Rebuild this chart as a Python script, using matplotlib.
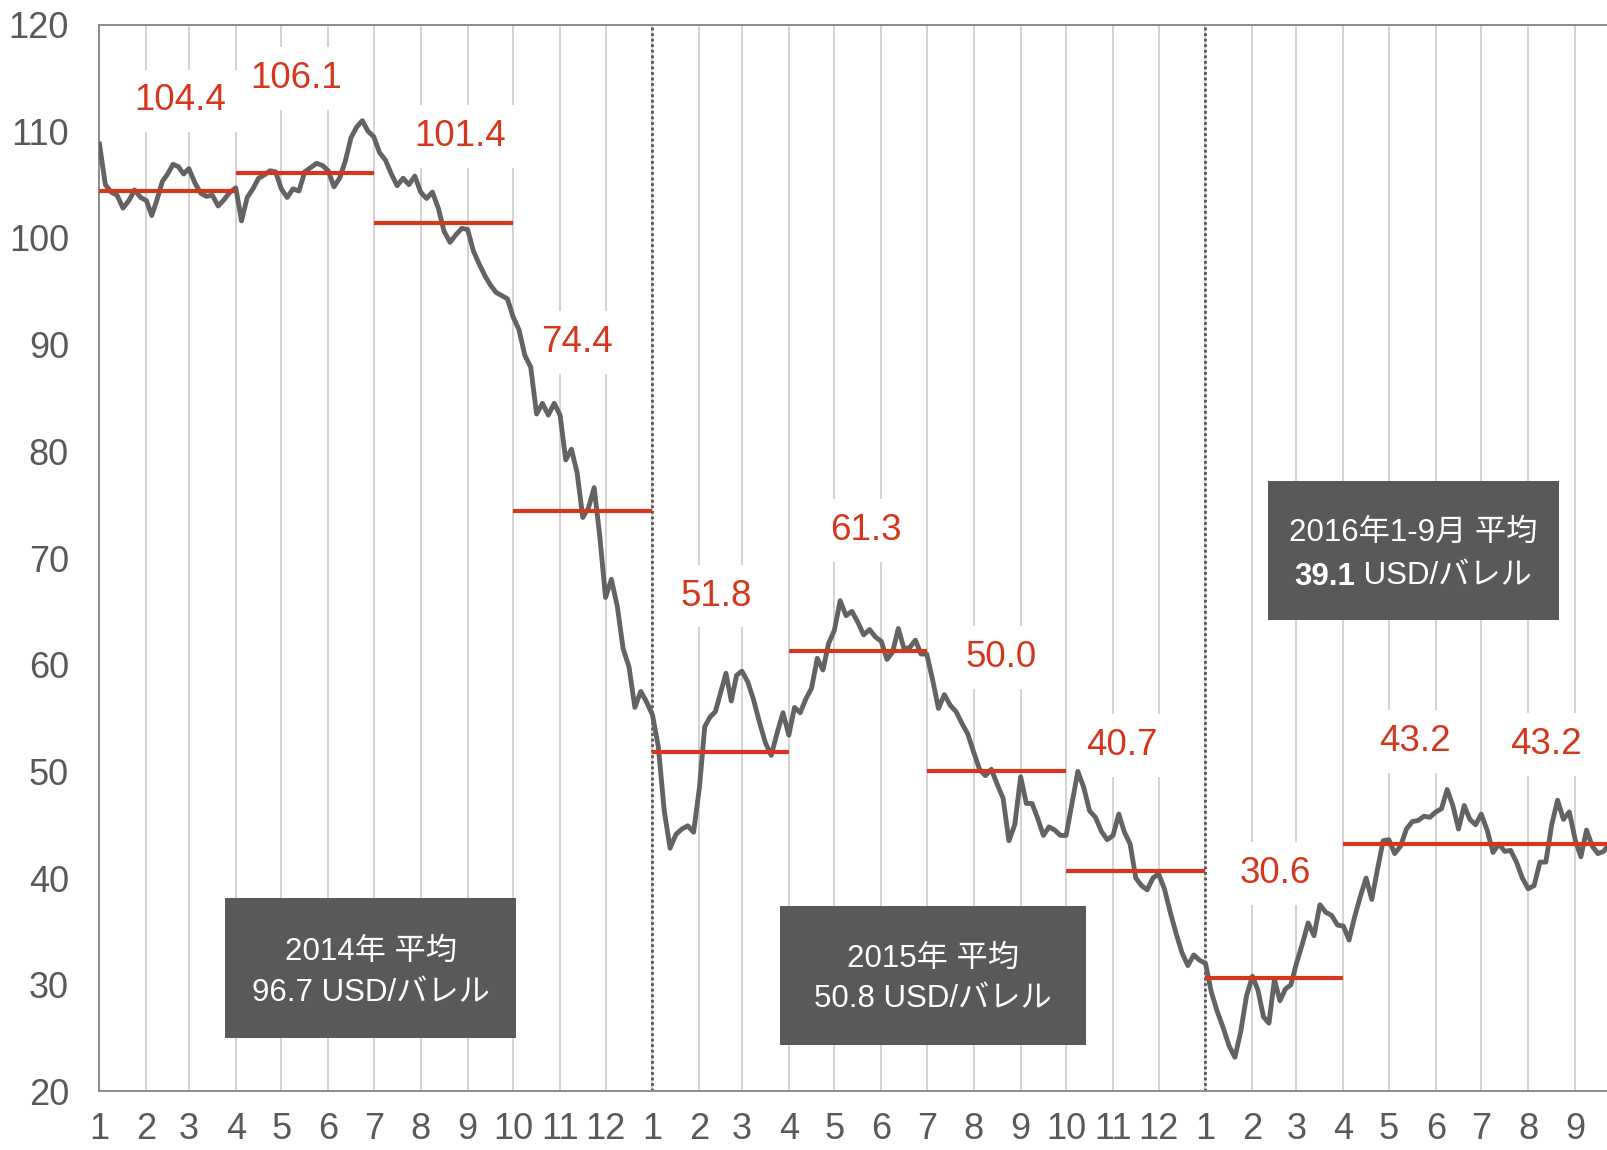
import pandas as pd
import matplotlib
matplotlib.use("Agg")
import matplotlib.pyplot as plt
import matplotlib.dates as mdates
from matplotlib.patches import Rectangle
from matplotlib.transforms import offset_copy

plt.rcParams['font.family'] = ['Liberation Sans', 'Noto Sans CJK JP', 'DejaVu Sans']

# crude price (USD/barrel), 8 readings per month
price_2014 = [
    108.8, 105.0, 104.3, 104.0, 102.8, 103.5, 104.5, 103.8,  # 1
    103.5, 102.1, 103.6, 105.3, 106.0, 106.9, 106.7, 106.0,  # 2
    106.5, 105.2, 104.2, 103.9, 104.0, 103.0, 103.6, 104.3,  # 3
    104.7, 101.6, 103.8, 104.6, 105.6, 105.9, 106.3, 106.2,  # 4
    104.6, 103.8, 104.6, 104.4, 106.2, 106.6, 107.0, 106.8,  # 5
    106.3, 104.8, 105.6, 107.2, 109.4, 110.4, 111.0, 110.0,  # 6
    109.5, 108.0, 107.3, 106.0, 104.9, 105.6, 105.0, 105.8,  # 7
    104.3, 103.7, 104.3, 102.8, 100.6, 99.6, 100.3, 100.9,   # 8
    100.8, 98.8, 97.6, 96.5, 95.6, 94.9, 94.6, 94.3,         # 9
    92.6, 91.4, 89.0, 87.9, 83.5, 84.5, 83.4, 84.5,          # 10
    83.4, 79.2, 80.2, 78.0, 73.8, 74.7, 76.6, 72.0,          # 11
    66.3, 68.0, 65.5, 61.5, 59.8, 56.0, 57.5, 56.5,          # 12
]
price_2015 = [
    55.3, 52.3, 46.3, 42.8, 44.1, 44.6, 44.9, 44.3,
    48.5, 54.2, 55.1, 55.6, 57.4, 59.2, 56.6, 59.0,
    59.4, 58.4, 56.7, 54.6, 52.7, 51.5, 53.6, 55.5,
    53.4, 56.0, 55.5, 56.8, 57.8, 60.6, 59.5, 62.0,
    63.2, 66.0, 64.6, 65.0, 64.0, 62.8, 63.3, 62.6,
    62.2, 60.5, 61.2, 63.4, 61.5, 61.6, 62.3, 61.0,
    61.0, 58.6, 55.9, 57.2, 56.2, 55.6, 54.5, 53.5,
    51.8, 50.2, 49.6, 50.2, 48.8, 47.5, 43.5, 45.0,
    49.5, 47.0, 47.0, 45.6, 44.0, 44.8, 44.5, 44.0,
    44.0, 47.0, 50.0, 48.5, 46.3, 45.7, 44.4, 43.6,
    44.0, 46.0, 44.3, 43.2, 40.0, 39.3, 38.9, 40.0,
    40.4, 39.0, 36.8, 34.8, 33.0, 31.8, 32.8, 32.3,
]
price_2016 = [
    32.0, 29.3, 27.5, 26.0, 24.3, 23.2, 25.6, 29.0,
    30.8, 29.5, 27.0, 26.4, 30.5, 28.5, 29.6, 30.0,
    32.0, 33.8, 35.8, 34.6, 37.5, 36.8, 36.5, 35.6,
    35.5, 34.2, 36.4, 38.3, 40.0, 38.0, 40.8, 43.5,
    43.6, 42.3, 43.0, 44.6, 45.3, 45.4, 45.8, 45.7,
    46.2, 46.5, 48.3, 46.8, 44.6, 46.8, 45.5, 45.0,
    46.0, 44.5, 42.4, 43.2, 42.5, 42.6, 41.5, 40.0,
    39.0, 39.3, 41.5, 41.5, 45.0, 47.3, 45.5, 46.2,
    43.6, 42.0, 44.5, 43.0, 42.3, 42.5, 43.2, 43.5,
]

# quarterly averages
q_start = ['2014-01-01', '2014-04-01', '2014-07-01', '2014-10-01',
           '2015-01-01', '2015-04-01', '2015-07-01', '2015-10-01',
           '2016-01-01', '2016-04-01', '2016-07-01']
q_end = ['2014-04-01', '2014-07-01', '2014-10-01', '2015-01-01',
         '2015-04-01', '2015-07-01', '2015-10-01', '2016-01-01',
         '2016-04-01', '2016-07-01', '2016-10-01']
q_avg = [104.4, 106.1, 101.4, 74.4, 51.8, 61.3, 50.0, 40.7, 30.6, 43.2, 43.2]
q_text = ['104.4', '106.1', '101.4', '74.4', '51.8', '61.3', '50.0', '40.7', '30.6', '43.2', '43.2']

# where the average labels sit
lab_x = ['2014-02-23', '2014-05-11', '2014-08-27', '2014-11-12', '2015-02-12', '2015-05-22',
         '2015-08-19', '2015-11-07', '2016-02-16', '2016-05-18', '2016-08-13']
lab_y = [113.2, 115.3, 109.9, 90.6, 66.8, 72.9, 61.0, 52.8, 40.8, 53.2, 52.9]

# yearly average boxes
box_l = ['2014-03-25', '2015-03-26', '2016-02-11']
box_r = ['2014-10-03', '2015-10-14', '2016-08-21']
box_b = [25.0, 24.4, 64.2]
box_t = [38.1, 37.4, 77.2]
box_line1 = ['2014年 平均', '2015年 平均', '2016年1-9月 平均']
box_num = ['96.7', '50.8', '39.1']
box_y1 = [32.3, 31.7, 71.6]
box_y2 = [28.5, 27.9, 67.5]

RED = '#d6361b'
GRAY = '#636363'
TXT = '#595959'


def month_dates(year, n_months, per_month=8):
    out = []
    for m in range(1, n_months + 1):
        start = pd.Timestamp(year, m, 1)
        nd = start.days_in_month
        for k in range(per_month):
            out.append(start + pd.Timedelta(days=k * nd / per_month))
    return out


dates = month_dates(2014, 12) + month_dates(2015, 12) + month_dates(2016, 9)
values = price_2014 + price_2015 + price_2016
dnum = mdates.date2num([d.to_pydatetime() for d in dates])


def dn(s):
    return mdates.date2num(pd.Timestamp(s).to_pydatetime())


fig = plt.figure(figsize=(16.07, 11.5), dpi=100)
ax = fig.add_axes([0.0619, 0.0509, 0.9381, 0.9277])

ax.set_xlim(dn('2014-01-01'), dn('2016-09-22'))
ax.set_ylim(20, 120)

months = pd.date_range('2014-01-01', '2016-09-01', freq='MS')
ax.set_xticks([dn(m) for m in months])
ax.set_xticklabels([str(m.month) for m in months])
ax.set_yticks(range(20, 121, 10))
ax.tick_params(axis='x', length=0, pad=15, labelsize=26, labelcolor=TXT)
ax.tick_params(axis='y', length=0, pad=22, labelsize=26, labelcolor=TXT)
ax.grid(axis='x', color='#c8c8c8', lw=1.1, zorder=0)
ax.set_axisbelow(True)

for side in ['left', 'bottom', 'top']:
    ax.spines[side].set_color('#8c8c8c')
    ax.spines[side].set_linewidth(1.4)
ax.spines['right'].set_visible(False)

for yr in ['2015-01-01', '2016-01-01']:
    ax.axvline(dn(yr), color='#555555', ls=(0, (1, 1)), lw=2.0, zorder=2)

# price line
ax.plot(dnum, values, color=GRAY, lw=3.5, solid_joinstyle='round', zorder=4)

# quarterly averages
ax.hlines(q_avg, [dn(s) for s in q_start], [dn(e) for e in q_end], color=RED, lw=3.0, zorder=5)
for x, y, t in zip(lab_x, lab_y, q_text):
    ax.text(dn(x), y - 1.25, t, color=RED, fontsize=26.5, ha='center', va='baseline', zorder=3,
            bbox=dict(fc='white', ec='none', pad=10))

# yearly boxes
fig.canvas.draw()
renderer = fig.canvas.get_renderer()
for i in range(3):
    l, r = dn(box_l[i]), dn(box_r[i])
    ax.add_patch(Rectangle((l, box_b[i]), r - l, box_t[i] - box_b[i], fc='#595959', ec='none', zorder=6))
    cx = (l + r) / 2
    ax.text(cx, box_y1[i], box_line1[i], color='white', fontsize=22.5, ha='center', va='baseline', zorder=7)
    if i < 2:
        ax.text(cx, box_y2[i], box_num[i] + ' USD/バレル', color='white', fontsize=22.5,
                ha='center', va='baseline', zorder=7)
    else:
        tb = ax.text(cx, box_y2[i], box_num[i], color='white', fontsize=22.5, fontweight='bold',
                     ha='left', va='baseline', zorder=7)
        tr = ax.text(cx, box_y2[i], ' USD/バレル', color='white', fontsize=22.5,
                     ha='left', va='baseline', zorder=7)
        wb = tb.get_window_extent(renderer).width
        wr = tr.get_window_extent(renderer).width
        tot = wb + wr
        tb.set_transform(offset_copy(ax.transData, fig=fig, x=-tot / 2, y=0, units='dots'))
        tr.set_transform(offset_copy(ax.transData, fig=fig, x=-tot / 2 + wb, y=0, units='dots'))

fig.savefig('out.png', dpi=100)
